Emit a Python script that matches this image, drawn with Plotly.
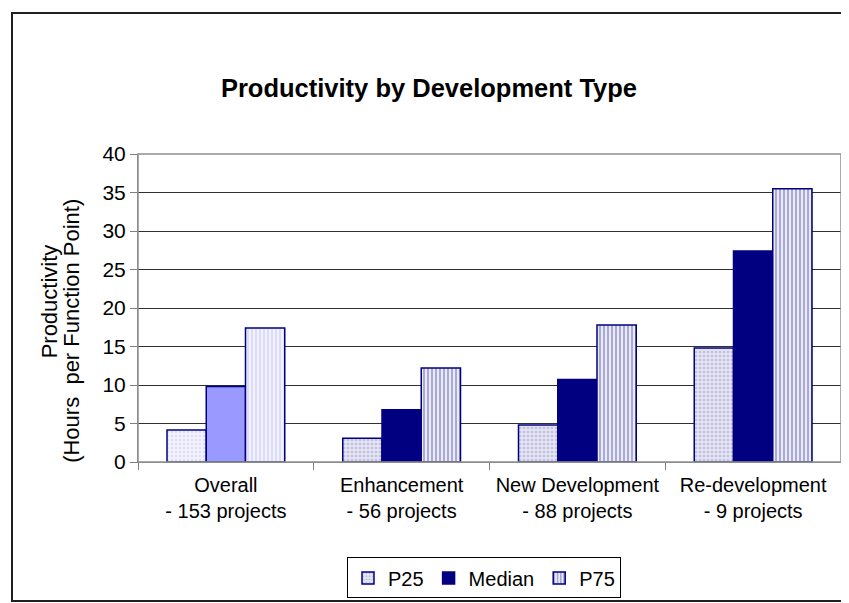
import plotly.graph_objects as go

categories = ["Overall<br>- 153 projects", "Enhancement<br>- 56 projects",
              "New Development<br>- 88 projects", "Re-development<br>- 9 projects"]
p25 = [4.15, 3.1, 4.8, 14.8]
median = [9.8, 6.8, 10.7, 27.4]
p75 = [17.4, 12.2, 17.8, 35.5]
series_names = ["P25", "Median", "P75"]
y_ticks = [0, 5, 10, 15, 20, 25, 30, 35, 40]

FONT = "Arial, Liberation Sans, sans-serif"
W, H = 849, 603
L, R, T, B = 130, 16, 146, 143.5
PW, PH = W - L - R, H - T - B

def px_x(p):
    return (p - L) / PW

def px_y(p):
    return (H - B - p) / PH

outline = dict(color="#000080", width=1.5)

# standard styles (used for legend) and the special styles for the "Overall" group
std = {
    "P25": dict(color="#E2E2F2", pattern=dict(shape=".", fgcolor="#9A9ACC", bgcolor="#E4E4F3", size=4, solidity=0.35)),
    "Median": dict(color="#000080"),
    "P75": dict(color="#E6E6F5", pattern=dict(shape="|", fgcolor="#5A5AAA", bgcolor="#EAEAF8", size=4, solidity=0.45)),
}
ovr = {
    "P25": dict(color="#F0F0FF", pattern=dict(shape=".", fgcolor="#C6C6EE", bgcolor="#F2F2FF", size=4, solidity=0.3)),
    "Median": dict(color="#9999FF"),
    "P75": dict(color="#EEEEFF", pattern=dict(shape="|", fgcolor="#BDBDF2", bgcolor="#F2F2FF", size=4, solidity=0.4)),
}

fig = go.Figure()
for name, vals in zip(series_names, [p25, median, p75]):
    fig.add_trace(go.Bar(
        name=name, x=categories[1:], y=vals[1:], offsetgroup=name,
        marker=dict(line=outline, **std[name]), legendgroup=name,
    ))
    fig.add_trace(go.Bar(
        name=name, x=categories[:1], y=vals[:1], offsetgroup=name,
        marker=dict(line=outline, **ovr[name]), showlegend=False, legendgroup=name,
    ))

fig.update_layout(
    width=W, height=H,
    margin=dict(l=L, r=R, t=T, b=B, pad=0),
    paper_bgcolor="white", plot_bgcolor="white",
    font=dict(family=FONT, size=20, color="black"),
    barmode="group", bargap=0.33, bargroupgap=0,
    title=dict(text="<b>Productivity by Development Type</b>", x=421 / W, xanchor="center",
               y=1 - 80 / H, yanchor="middle", font=dict(size=25.5, family=FONT, color="black")),
    showlegend=True,
    legend=dict(orientation="h", x=px_x(476), xanchor="center", y=px_y(577.5), yanchor="middle",
                bordercolor="black", borderwidth=1, bgcolor="white",
                font=dict(size=20, family=FONT), itemwidth=30, traceorder="normal",
                tracegroupgap=0),
    xaxis=dict(categoryorder="array", categoryarray=categories, showline=True, linecolor="#808080",
               linewidth=1, ticks="outside", tickson="boundaries", ticklen=7, tickcolor="#808080",
               showgrid=False, tickfont=dict(size=20), fixedrange=True, ticklabelstandoff=5),
    yaxis=dict(range=[0, 40], tickvals=y_ticks, showline=True, linecolor="#808080", linewidth=1,
               ticks="outside", ticklen=7, tickcolor="#808080", showgrid=True, gridcolor="#303030",
               gridwidth=1, tickfont=dict(size=21), zeroline=False, fixedrange=True),
    shapes=[
        dict(type="rect", xref="paper", yref="paper", x0=0, x1=1, y0=0, y1=1,
             line=dict(color="#909090", width=1.5), layer="above"),
        dict(type="rect", xref="paper", yref="paper", x0=px_x(4), x1=px_x(847), y0=px_y(601), y1=px_y(2.5),
             line=dict(color="#202020", width=2)),
    ],
    annotations=[
        dict(text="Productivity", xref="paper", yref="paper", x=px_x(41), y=px_y(296),
             xanchor="center", yanchor="middle", textangle=-90, showarrow=False, font=dict(size=22)),
        dict(text="(Hours  per Function Point)", xref="paper", yref="paper", x=px_x(64), y=px_y(326),
             xanchor="center", yanchor="middle", textangle=-90, showarrow=False, font=dict(size=22)),
    ],
)

fig.write_html("out.html")
